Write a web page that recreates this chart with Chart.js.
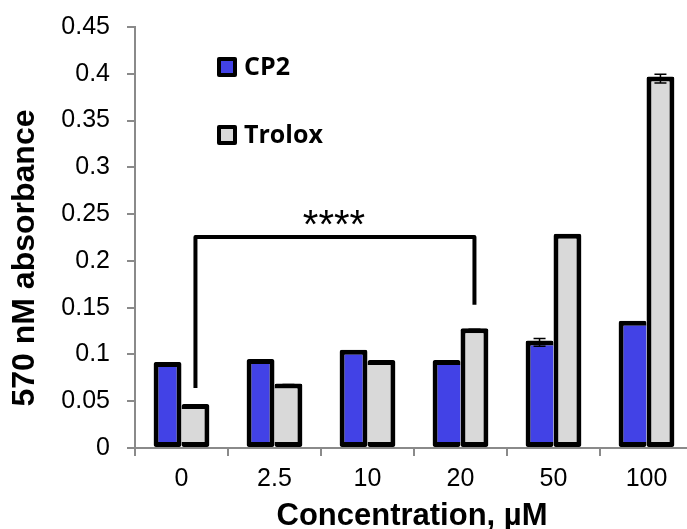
<!DOCTYPE html>
<html>
<head>
<meta charset="utf-8">
<script src="https://cdn.jsdelivr.net/npm/chart.js@4/dist/chart.umd.min.js"></script>
<style>
html, body { margin: 0; padding: 0; background: #fff; overflow: hidden; }
canvas { display: block; }
</style>
</head>
<body>
<canvas id="absorbance_graph" width="693" height="529"></canvas>
<script>
const categories = ['0', '2.5', '10', '20', '50', '100']
const cp2Values = [0.092, 0.095, 0.105, 0.094, 0.115, 0.136]
const cp2Errors = [0.001, 0.001, 0.001, 0.001, 0.0042, 0.001]
const troloxValues = [0.047, 0.069, 0.094, 0.128, 0.229, 0.397]
const troloxErrors = [0.001, 0.001, 0.001, 0.001, 0.001, 0.0046]
const yTicks = [0, 0.05, 0.1, 0.15, 0.2, 0.25, 0.3, 0.35, 0.4, 0.45]
const yTickLabels = ['0', '0.05', '0.1', '0.15', '0.2', '0.25', '0.3', '0.35', '0.4', '0.45']

// significance bracket: Trolox at 0 vs Trolox at 20
const bracketFrom = 0
const bracketTo = 3
const bracketLevels = [0.064, 0.2255, 0.153]
const bracketText = '****'

const FONT = "'Liberation Sans', Arial, sans-serif"
const BLUE = '#4242E6'
const GREY = '#D9D9D9'
const AXIS = '#8a8a8a'
const EDGE = 5

// the shorter bar of a pair loses its inner side border so the pair shares one divider
function pairBorder(ctx, other, side){
    const i = ctx.dataIndex
    const mine = ctx.dataset.data[i]
    const bw = {top: EDGE, right: EDGE, bottom: EDGE, left: EDGE}
    if (mine < other[i]) bw[side] = 0
    return bw
}

const errorBars = {
    id: 'errorBars',
    afterDatasetsDraw(chart){
        const c = chart.ctx
        const y = chart.scales.y
        const errs = [cp2Errors, troloxErrors]
        c.save()
        c.strokeStyle = '#000'
        c.lineWidth = 1.5
        chart.data.datasets.forEach(function(ds, d){
            chart.getDatasetMeta(d).data.forEach(function(bar, i){
                const v = ds.data[i]
                const hi = y.getPixelForValue(v + errs[d][i]) + 2
                const lo = y.getPixelForValue(v - errs[d][i]) + 2
                c.beginPath()
                c.moveTo(bar.x, hi); c.lineTo(bar.x, lo)
                c.moveTo(bar.x - 6, hi); c.lineTo(bar.x + 6, hi)
                c.moveTo(bar.x - 6, lo); c.lineTo(bar.x + 6, lo)
                c.stroke()
            })
        })
        c.restore()
    }
}

const extras = {
    id: 'extras',
    afterDraw(chart){
        const c = chart.ctx
        const y = chart.scales.y
        const area = chart.chartArea
        const tro = chart.getDatasetMeta(1).data
        c.save()

        // bracket
        const x1 = tro[bracketFrom].x
        const x2 = tro[bracketTo].x
        c.strokeStyle = '#000'
        c.lineWidth = 4
        c.lineJoin = 'round'
        c.beginPath()
        c.moveTo(x1, y.getPixelForValue(bracketLevels[0]))
        c.lineTo(x1, y.getPixelForValue(bracketLevels[1]))
        c.lineTo(x2, y.getPixelForValue(bracketLevels[1]))
        c.lineTo(x2, y.getPixelForValue(bracketLevels[2]))
        c.stroke()
        c.fillStyle = '#000'
        c.font = '40px ' + FONT
        c.textAlign = 'center'
        c.textBaseline = 'alphabetic'
        c.fillText(bracketText, (x1 + x2) / 2 - 1, y.getPixelForValue(bracketLevels[1]) + 1)

        // legend
        const rows = [62, 130]
        chart.data.datasets.forEach(function(ds, d){
            const top = rows[d] - 5
            c.fillStyle = '#000'
            c.beginPath()
            c.roundRect(217, top, 20, 20, 2)
            c.fill()
            c.fillStyle = ds.backgroundColor
            c.fillRect(221, top + 4, 12, 12)
            c.fillStyle = '#000'
            c.font = 'bold 25px "Open Sans", sans-serif'
            c.textAlign = 'left'
            c.fillText(ds.label, 244, top + 18)
        })

        // axis titles
        c.font = 'bold 31px ' + FONT
        c.textAlign = 'center'
        c.fillText('Concentration, \u00b5M', (area.left + area.right) / 2 - 2, 525)
        c.translate(34, 258)
        c.rotate(-Math.PI / 2)
        c.font = 'bold 32px ' + FONT
        c.fillText('570 nM absorbance', 0, 0)
        c.restore()
    }
}

const ctx = document.getElementById('absorbance_graph').getContext('2d')
const myChart = new Chart(ctx, {
    type: 'bar',
    data: {
        labels: categories,
        datasets: [{
            label: 'CP2',
            data: cp2Values,
            backgroundColor: BLUE,
            borderColor: '#000',
            borderWidth: (c) => pairBorder(c, troloxValues, 'right'),
            borderSkipped: false,
            borderRadius: 2
        }, {
            label: 'Trolox',
            data: troloxValues,
            backgroundColor: GREY,
            borderColor: '#000',
            borderWidth: (c) => pairBorder(c, cp2Values, 'left'),
            borderSkipped: false,
            borderRadius: 2
        }]
    },
    options: {
        responsive: false,
        animation: false,
        devicePixelRatio: 1,
        layout: { padding: { top: 27, left: 0, right: 0, bottom: 0 } },
        datasets: { bar: { categoryPercentage: 0.6, barPercentage: 1.0 } },
        plugins: {
            legend: { display: false },
            tooltip: { enabled: false }
        },
        scales: {
            x: {
                offset: true,
                grid: { offset: true, drawOnChartArea: false, color: AXIS, lineWidth: 2, tickLength: 8 },
                border: { color: AXIS, width: 2 },
                ticks: { color: '#000', font: { family: FONT, size: 25 }, padding: 8, maxRotation: 0 },
                afterFit: function(scale){ scale.height = 81 }
            },
            y: {
                min: 0,
                max: 0.45,
                grid: { drawOnChartArea: false, color: AXIS, lineWidth: 2, tickLength: 8 },
                border: { color: AXIS, width: 2 },
                ticks: {
                    color: '#000',
                    font: { family: FONT, size: 25 },
                    padding: 17,
                    callback: function(value, index){ return yTickLabels[index] }
                },
                afterBuildTicks: function(scale){ scale.ticks = yTicks.map(v => ({ value: v })) },
                afterFit: function(scale){
                    scale.width = 135
                    scale.paddingTop = 0
                    scale.paddingBottom = 0
                }
            }
        }
    },
    plugins: [errorBars, extras]
})
</script>
</body>
</html>
